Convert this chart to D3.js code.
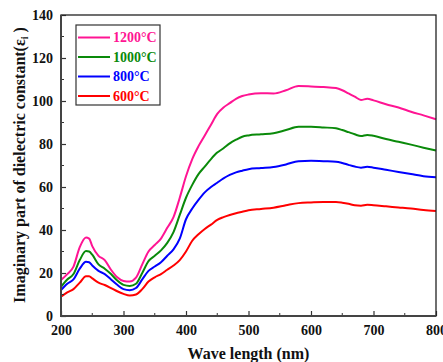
<!DOCTYPE html>
<html lang="en">
<head>
<meta charset="UTF-8">
<title>Imaginary part of dielectric constant</title>
<script src="https://d3js.org/d3.v7.min.js"></script>
<style>
  body { margin: 0; background: #fff; }
  svg text { font-family: "Liberation Serif", "Times New Roman", serif; font-weight: bold; }
</style>
</head>
<body>
<svg id="chart" width="443" height="362"></svg>
<script>
// wavelength grid (nm)
const wave = [200, 210, 220, 230, 240, 245, 250, 260, 270, 280, 290, 300, 310, 320, 330, 340, 350, 360, 370, 380,
  390, 400, 410, 420, 430, 440, 450, 460, 470, 480, 490, 500, 520, 540, 560, 580, 600, 620, 640, 650,
  660, 670, 680, 690, 700, 720, 740, 760, 780, 800];

const s1200 = [16.7, 19.5, 23, 32, 36.5, 36, 32.5, 28, 26, 21.5, 18, 16.3, 16, 17.8, 24, 30, 33, 36, 41, 46,
  55, 65, 73, 79, 84, 89, 94, 97, 99, 101, 102.3, 103, 103.6, 103.5, 105, 107, 106.8, 106.5, 106, 105,
  103.5, 102, 100.5, 101, 100.3, 98.5, 97, 95, 93.3, 91.5];
const s1000 = [13.6, 17, 19.5, 26, 30.2, 30, 28.5, 24, 22, 19.5, 16.5, 14.5, 14, 15, 20, 25.5, 28, 30.5, 34, 39,
  47, 55, 61, 66, 69.5, 73, 76, 78, 80.3, 82, 83.4, 84, 84.5, 85, 86.5, 88, 88, 87.7, 87.3, 86.5,
  85.5, 84.5, 83.7, 84.2, 83.8, 82.3, 81, 79.7, 78.3, 77];
const s800 = [12, 15, 17, 22, 25.2, 25, 23.5, 21, 19.5, 17, 14.5, 12.5, 12, 13, 17, 21, 23, 25, 28, 31,
  36, 45, 50, 54, 57.5, 60, 62, 64, 65.6, 66.8, 67.6, 68.3, 68.8, 69.3, 70.5, 72, 72.2, 72, 71.8, 71.2,
  70.3, 69.5, 69, 69.4, 69, 68, 67, 66, 65, 64.5];
const s600 = [9, 11, 12.5, 15.5, 18.5, 18.5, 17.5, 15.5, 14.4, 13, 11.5, 10.3, 9.5, 10, 12.5, 16, 18, 19.5, 21.5, 23.5,
  26, 30, 35, 38, 40.5, 42.5, 44.7, 46, 47, 47.8, 48.5, 49.2, 49.8, 50.4, 51.5, 52.5, 52.8, 53, 53, 52.7,
  52.2, 51.5, 51.3, 51.7, 51.5, 51, 50.5, 50, 49.3, 48.8];

const seriesNames = ["1200°C", "1000°C", "800°C", "600°C"];
const seriesColors = ["#ff1493", "#0a8a0a", "#0000ff", "#ff0000"];
const seriesData = [s1200, s1000, s800, s600];

const xTicks = [200, 300, 400, 500, 600, 700, 800];
const yTicks = [0, 20, 40, 60, 80, 100, 120, 140];

const svg = d3.select("#chart");
const m = { left: 61, right: 436, top: 15, bottom: 316 };

const x = d3.scaleLinear().domain([200, 800]).range([m.left, m.right]);
const y = d3.scaleLinear().domain([0, 140]).range([m.bottom, m.top]);

// curves
const line = d3.line()
  .x((d, i) => x(wave[i]))
  .y(d => y(d))
  .curve(d3.curveMonotoneX);

svg.append("g")
  .selectAll("path")
  .data(seriesData)
  .enter().append("path")
  .attr("d", d => line(d))
  .attr("fill", "none")
  .attr("stroke", (d, i) => seriesColors[i])
  .attr("stroke-width", 2);

// minor ticks (inside)
svg.append("g")
  .selectAll("line")
  .data(d3.range(250, 800, 100))
  .enter().append("line")
  .attr("x1", d => x(d)).attr("x2", d => x(d))
  .attr("y1", m.bottom).attr("y2", m.bottom - 3)
  .attr("stroke", "#333").attr("stroke-width", 1);
svg.append("g")
  .selectAll("line")
  .data(d3.range(10, 140, 20))
  .enter().append("line")
  .attr("x1", m.left).attr("x2", m.left + 3)
  .attr("y1", d => y(d)).attr("y2", d => y(d))
  .attr("stroke", "#333").attr("stroke-width", 1);

// axes
const xAxis = svg.append("g")
  .attr("transform", `translate(0,${m.bottom})`)
  .call(d3.axisBottom(x).tickValues(xTicks).tickSizeInner(-5).tickSizeOuter(0).tickPadding(9.5));
const yAxis = svg.append("g")
  .attr("transform", `translate(${m.left},0)`)
  .call(d3.axisLeft(y).tickValues(yTicks).tickSizeInner(-5).tickSizeOuter(0).tickPadding(8));

[xAxis, yAxis].forEach(a => {
  a.select(".domain").remove();
  a.selectAll("line").attr("stroke", "#333").attr("stroke-width", 1.2);
  a.selectAll("text")
    .attr("font-size", 14)
    .attr("font-family", "Liberation Serif, serif")
    .attr("font-weight", "bold")
    .attr("fill", "#111");
});

// frame
svg.append("rect")
  .attr("x", m.left).attr("y", m.top)
  .attr("width", m.right - m.left).attr("height", m.bottom - m.top)
  .attr("fill", "none").attr("stroke", "#222").attr("stroke-width", 1.3);
svg.append("line")
  .attr("x1", m.left).attr("x2", m.left).attr("y1", m.top).attr("y2", m.bottom + 1)
  .attr("stroke", "#444").attr("stroke-width", 2);
svg.append("line")
  .attr("x1", m.left).attr("x2", m.right).attr("y1", m.bottom).attr("y2", m.bottom)
  .attr("stroke", "#444").attr("stroke-width", 2);

// axis titles
svg.append("text")
  .attr("x", (m.left + m.right) / 2).attr("y", 359)
  .attr("text-anchor", "middle")
  .attr("font-size", 16)
  .attr("fill", "#111")
  .text("Wave length (nm)");

const yt = svg.append("text")
  .attr("transform", `translate(25,165) rotate(-90)`)
  .attr("text-anchor", "middle")
  .attr("font-size", 16)
  .attr("fill", "#111");
yt.append("tspan").text("Imaginary part of dielectric constant(ε");
yt.append("tspan").attr("font-size", 10).attr("dy", 3).text("i");
yt.append("tspan").attr("dy", -3).text(" )");

// legend
const legend = svg.append("g");
legend.append("rect")
  .attr("x", 76).attr("y", 25).attr("width", 84).attr("height", 80)
  .attr("fill", "#fff").attr("stroke", "#333").attr("stroke-width", 1.2);
const rows = legend.selectAll("g.row")
  .data(seriesNames)
  .enter().append("g")
  .attr("transform", (d, i) => `translate(0,${37.5 + i * 19.5})`);
rows.append("line")
  .attr("x1", 78).attr("x2", 110)
  .attr("stroke", (d, i) => seriesColors[i])
  .attr("stroke-width", 2);
rows.append("text")
  .attr("x", 113).attr("dy", "0.35em")
  .attr("font-size", 14)
  .attr("fill", (d, i) => seriesColors[i])
  .text(d => d);
</script>
</body>
</html>
